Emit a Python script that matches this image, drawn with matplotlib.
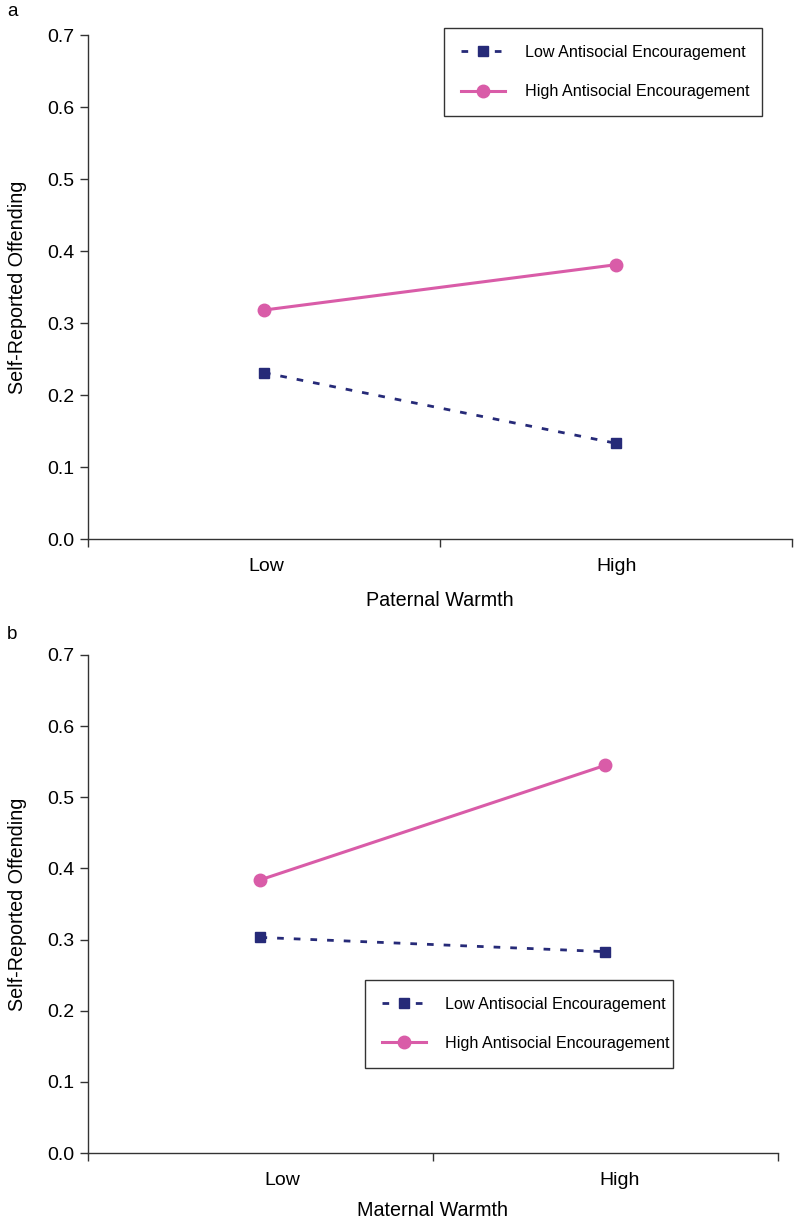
import matplotlib.pyplot as plt

plt.rcParams['font.family'] = ['Liberation Sans', 'DejaVu Sans']

# data
categories = ['Low', 'High']
paternal_low_ae = [0.231, 0.133]
paternal_high_ae = [0.318, 0.381]
maternal_low_ae = [0.303, 0.283]
maternal_high_ae = [0.384, 0.545]
y_ticks = [0.0, 0.1, 0.2, 0.3, 0.4, 0.5, 0.6, 0.7]

NAVY = '#262a78'
PINK = '#d95ca8'
AXIS = '#333333'

fig = plt.figure(figsize=(7.94, 12.24), dpi=100)
ax_a = fig.add_axes([0.1108, 0.5596, 0.8866, 0.4118])
ax_b = fig.add_axes([0.1108, 0.0580, 0.8690, 0.4069])

xpos = [0.5, 1.5]


def draw_panel(ax, low_vals, high_vals, xlabel, legend_box, label_pos, ylab_x, xlab_pad):
    ax.plot(xpos, low_vals, color=NAVY, linestyle=(0, (2.4, 3.6)), lw=2.0,
            marker='s', ms=6.8, mec=NAVY, mfc=NAVY, label='Low Antisocial Encouragement')
    ax.plot(xpos, high_vals, color=PINK, lw=2.2, marker='o', ms=9,
            mec=PINK, mfc=PINK, label='High Antisocial Encouragement')
    ax.set_xlim(0, 2)
    ax.set_ylim(0, 0.7)
    ax.set_yticks(y_ticks)
    ax.set_yticklabels([f'{v:.1f}' for v in y_ticks])
    ax.set_xticks([0, 1, 2])
    ax.set_xticklabels([])
    ax.set_xticks(label_pos, minor=True)
    ax.set_xticklabels(categories, minor=True)
    ax.tick_params(axis='x', which='minor', length=0, pad=14, labelsize=14)
    ax.tick_params(axis='x', which='major', length=6, width=1, color=AXIS)
    ax.tick_params(axis='y', length=6, width=1, pad=4, labelsize=14, color=AXIS)
    for s in ['top', 'right']:
        ax.spines[s].set_visible(False)
    for s in ['left', 'bottom']:
        ax.spines[s].set_linewidth(1)
        ax.spines[s].set_color(AXIS)
    ax.set_xlabel(xlabel, fontsize=14.2, labelpad=xlab_pad)
    ax.set_ylabel('Self-Reported Offending', fontsize=14.2)
    ax.yaxis.set_label_coords(ylab_x, 0.5)
    leg = ax.legend(loc='lower left', bbox_to_anchor=legend_box, mode='expand',
                    fontsize=11.6, frameon=True, fancybox=False, handlelength=2.75,
                    handletextpad=1.2, labelspacing=1.5, borderpad=1.05,
                    borderaxespad=0)
    leg.get_frame().set_edgecolor('black')
    leg.get_frame().set_linewidth(1)


draw_panel(ax_a, paternal_low_ae, paternal_high_ae, 'Paternal Warmth',
           (0.5057, 0.839, 0.4517, 0.17), [0.508, 1.503], -0.086, 11.5)
draw_panel(ax_b, maternal_low_ae, maternal_high_ae, 'Maternal Warmth',
           (0.4014, 0.1707, 0.4464, 0.17), [0.562, 1.542], -0.088, 8)

fig.text(0.009, 0.9975, 'a', fontsize=13.5, va='top')
fig.text(0.009, 0.4885, 'b', fontsize=13.5, va='top')

fig.savefig('out.png', dpi=100)
